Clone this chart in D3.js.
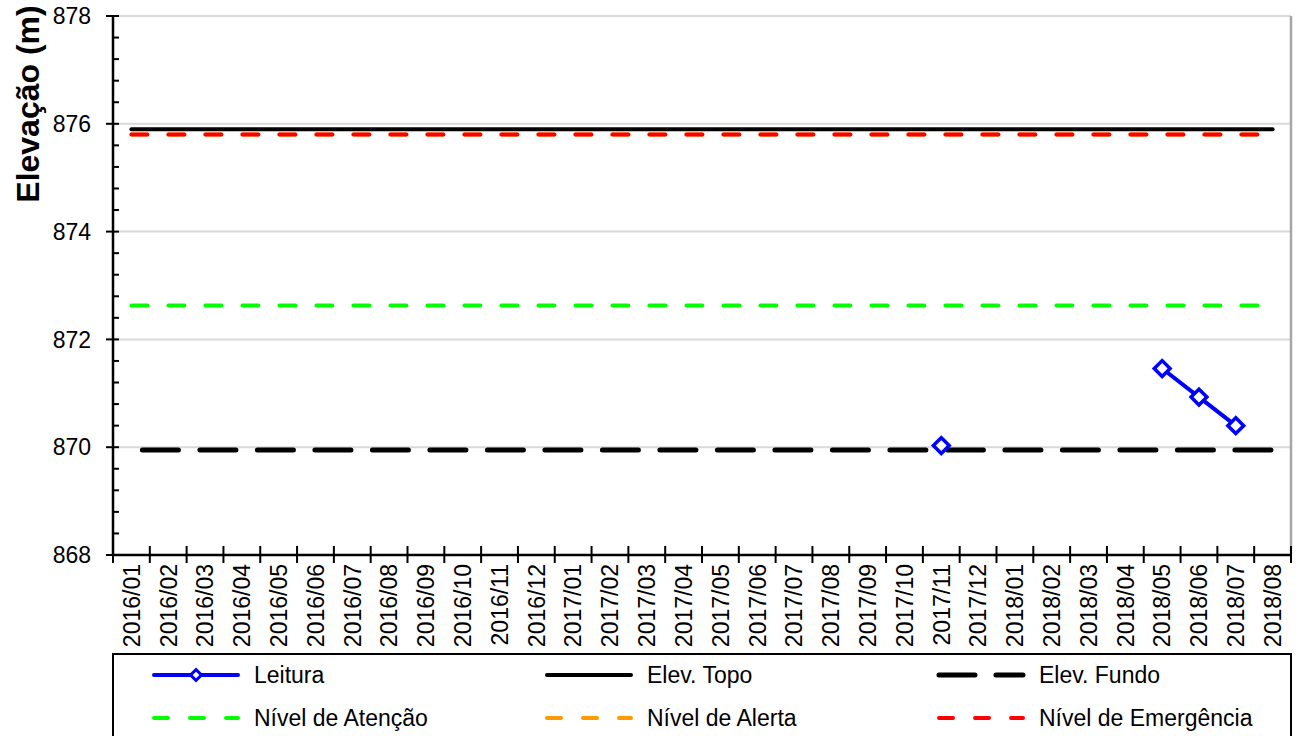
<!DOCTYPE html>
<html><head><meta charset="utf-8">
<script src="https://cdn.jsdelivr.net/npm/d3@7"></script>
<style>body{margin:0;background:#fff}svg{display:block;font-family:"Liberation Sans",Arial,sans-serif}</style>
</head><body><svg id="c" width="1299" height="736"></svg>
<script>
const categories = ["2016/01","2016/02","2016/03","2016/04","2016/05","2016/06","2016/07","2016/08","2016/09","2016/10","2016/11","2016/12","2017/01","2017/02","2017/03","2017/04","2017/05","2017/06","2017/07","2017/08","2017/09","2017/10","2017/11","2017/12","2018/01","2018/02","2018/03","2018/04","2018/05","2018/06","2018/07","2018/08"];
const leitura = [null,null,null,null,null,null,null,null,null,null,null,null,null,null,null,null,null,null,null,null,null,null,870.03,null,null,null,null,null,871.46,870.93,870.40,null];
const elevTopo = 875.9;
const elevFundo = 869.95;
const nivelAtencao = 872.63;
const nivelAlerta = 875.8;
const nivelEmergencia = 875.8;
const yTicks = [868,870,872,874,876,878];
const legendItems = ["Leitura","Elev. Topo","Elev. Fundo","Nível de Atenção","Nível de Alerta","Nível de Emergência"];

const svg = d3.select("#c");
const L=113, R=1291, T=16, B=555;
const FS=23;
const x = d3.scaleBand().domain(categories).range([L,R]);
const y = d3.scaleLinear().domain([868,878]).range([B,T]);

svg.append("g").selectAll("line").data(yTicks.slice(1)).join("line")
  .attr("x1",L).attr("x2",R).attr("y1",d=>y(d)).attr("y2",d=>y(d))
  .attr("stroke","#d9d9d9").attr("stroke-width",2);
svg.append("line").attr("x1",R).attr("x2",R).attr("y1",T).attr("y2",B).attr("stroke","#a6a6a6").attr("stroke-width",2.5);

const x0 = x(categories[0])+x.bandwidth()/2, x1 = x(categories[categories.length-1])+x.bandwidth()/2;
const SHORT="16,21", LONG="36,21.5";
function hline(v,color,w,dash,off){
  svg.append("line").attr("x1",x0).attr("x2",x1).attr("y1",y(v)).attr("y2",y(v))
    .attr("stroke",color).attr("stroke-width",w).attr("stroke-dasharray",dash)
    .attr("stroke-dashoffset",off||0).attr("stroke-linecap","round");
}
hline(elevFundo,"#000",5,LONG,-11);
hline(nivelAtencao,"#00ff00",4,SHORT);
hline(nivelAlerta,"#ff9900",4,SHORT);
hline(nivelEmergencia,"#ff0000",4,SHORT);
hline(elevTopo,"#000",4,null);

const yMinor = d3.range(868,878.001,0.4).filter(v=>Math.abs(v-Math.round(v/2)*2)>1e-6);
svg.append("g").selectAll("line").data(yMinor).join("line")
  .attr("x1",L).attr("x2",L+6).attr("y1",d=>y(d)).attr("y2",d=>y(d)).attr("stroke","#000").attr("stroke-width",2);
svg.append("g").selectAll("line").data(yTicks).join("line")
  .attr("x1",L-7).attr("x2",L+6).attr("y1",d=>y(d)).attr("y2",d=>y(d)).attr("stroke","#000").attr("stroke-width",2);
svg.append("g").selectAll("text").data(yTicks).join("text")
  .attr("x",L-22).attr("y",d=>y(d)).attr("dy","0.36em").attr("text-anchor","end")
  .attr("font-size",FS).text(d=>d);
svg.append("line").attr("x1",L).attr("x2",L).attr("y1",T).attr("y2",B).attr("stroke","#000").attr("stroke-width",2.5);

const bounds = categories.map(c=>x(c)).concat([R]);
svg.append("g").selectAll("line").data(bounds).join("line")
  .attr("x1",d=>d).attr("x2",d=>d).attr("y1",B-9).attr("y2",B+8).attr("stroke","#000").attr("stroke-width",2);
svg.append("line").attr("x1",L).attr("x2",R).attr("y1",B).attr("y2",B).attr("stroke","#000").attr("stroke-width",2.5);
svg.append("g").selectAll("text").data(categories).join("text")
  .attr("transform",d=>`translate(${x(d)+x.bandwidth()/2},${B+9}) rotate(-90)`)
  .attr("dy","0.36em").attr("text-anchor","end").attr("font-size",FS).text(d=>d);

svg.append("text").attr("transform","translate(27,104) rotate(-90)").attr("dy","0.36em")
  .attr("text-anchor","middle").attr("font-size",32).attr("font-weight","bold").text("Elevação (m)");

const pts = categories.map((c,i)=>({c,v:leitura[i]}));
const line = d3.line().defined(d=>d.v!==null).x(d=>x(d.c)+x.bandwidth()/2).y(d=>y(d.v));
svg.append("path").datum(pts).attr("d",line).attr("fill","none").attr("stroke","#0000ff").attr("stroke-width",4);
const diamond = d3.symbol().type(d3.symbolSquare).size(125);
svg.append("g").selectAll("path").data(pts.filter(d=>d.v!==null)).join("path")
  .attr("d",diamond).attr("transform",d=>`translate(${x(d.c)+x.bandwidth()/2},${y(d.v)}) rotate(45)`)
  .attr("fill","#fff").attr("stroke","#0000ff").attr("stroke-width",3.5);

svg.append("rect").attr("x",L).attr("y",654).attr("width",R-L).attr("height",100).attr("fill","#fff").attr("stroke","#000").attr("stroke-width",2);
const colX=[152,545,937], rowY=[675,718];
const styles=[
  {c:"#0000ff",w:4,d:null,m:true},
  {c:"#000",w:4,d:null},
  {c:"#000",w:5,d:"36,21"},
  {c:"#00ff00",w:4,d:"14,22"},
  {c:"#ff9900",w:4,d:"14,22"},
  {c:"#ff0000",w:4,d:"14,22"}];
legendItems.forEach((t,i)=>{
  const cx=colX[i%3], cy=rowY[Math.floor(i/3)], s=styles[i];
  svg.append("line").attr("x1",cx+2).attr("x2",cx+86).attr("y1",cy).attr("y2",cy)
    .attr("stroke",s.c).attr("stroke-width",s.w).attr("stroke-dasharray",s.d).attr("stroke-linecap","round");
  if(s.m) svg.append("path").attr("d",d3.symbol().type(d3.symbolSquare).size(60)())
    .attr("transform",`translate(${cx+44},${cy}) rotate(45)`).attr("fill","#fff").attr("stroke",s.c).attr("stroke-width",3);
  svg.append("text").attr("x",cx+102).attr("y",cy).attr("dy","0.36em").attr("font-size",FS).text(t);
});
</script></body></html>
